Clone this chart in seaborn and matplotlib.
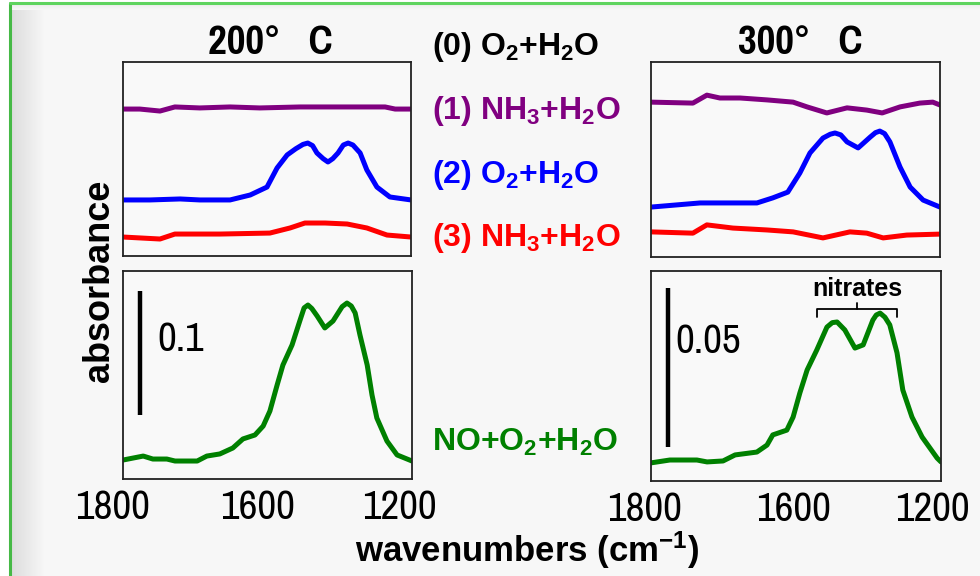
import numpy as np
import pandas as pd
import matplotlib
matplotlib.use('Agg')
import matplotlib.pyplot as plt
import seaborn as sns

# ---- data (wavenumber in cm-1, absorbance) ----
# 200 C, difference spectra
w_p200 = [1800, 1765, 1723, 1692, 1640, 1577, 1515, 1431, 1348, 1254, 1233, 1200]
a_p200 = [0.1185, 0.1185, 0.1169, 0.1202, 0.1194, 0.1202, 0.1194, 0.1202, 0.1202, 0.1202, 0.1185, 0.1185]

w_b200 = [1800, 1744, 1681, 1640, 1577, 1535, 1500, 1479, 1458, 1440, 1425, 1415, 1405, 1396,
          1383, 1373, 1363, 1352, 1341, 1331, 1321, 1306, 1292, 1271, 1244, 1200]
a_b200 = [0.0452, 0.0452, 0.0460, 0.0452, 0.0452, 0.0492, 0.0556, 0.0710, 0.0815, 0.0865,
          0.0900, 0.0911, 0.0890, 0.0831, 0.0785, 0.0758, 0.0785, 0.0831, 0.0895, 0.0911,
          0.0895, 0.0831, 0.0694, 0.0556, 0.0476, 0.0452]

w_r200 = [1800, 1723, 1692, 1598, 1494, 1452, 1421, 1379, 1333, 1292, 1250, 1200]
a_r200 = [0.0153, 0.0137, 0.0177, 0.0177, 0.0185, 0.0226, 0.0266, 0.0266, 0.0258, 0.0226, 0.0169, 0.0153]

# 200 C, NO+O2+H2O
w_g200 = [1800, 1758, 1738, 1709, 1692, 1646, 1626, 1599, 1572, 1551, 1526, 1509, 1495, 1480,
          1468, 1449, 1433, 1424, 1416, 1408, 1397, 1381, 1364, 1345, 1335, 1326, 1318, 1308,
          1293, 1283, 1273, 1252, 1231, 1200]
a_g200 = [0.0153, 0.0185, 0.0161, 0.0161, 0.0145, 0.0145, 0.0185, 0.0202, 0.0250, 0.0323,
          0.0355, 0.0427, 0.0548, 0.0758, 0.0919, 0.1081, 0.1274, 0.1380, 0.1403, 0.1375,
          0.1315, 0.1218, 0.1274, 0.1390, 0.1419, 0.1395, 0.1339, 0.1161, 0.0919, 0.0677,
          0.0492, 0.0306, 0.0194, 0.0145]

# 300 C, difference spectra
w_p300 = [1800, 1713, 1684, 1657, 1615, 1559, 1505, 1476, 1435, 1393, 1352, 1320, 1283, 1242, 1215, 1200]
a_p300 = [0.0487, 0.0484, 0.0509, 0.0500, 0.0500, 0.0494, 0.0487, 0.0472, 0.0453, 0.0469,
          0.0462, 0.0453, 0.0472, 0.0484, 0.0487, 0.0478]

w_b300 = [1800, 1698, 1580, 1547, 1516, 1491, 1470, 1443, 1428, 1418, 1406, 1393, 1370, 1345,
          1334, 1325, 1315, 1304, 1283, 1262, 1235, 1200]
a_b300 = [0.0157, 0.0170, 0.0170, 0.0186, 0.0204, 0.0264, 0.0327, 0.0374, 0.0386, 0.0390,
          0.0384, 0.0362, 0.0343, 0.0377, 0.0391, 0.0396, 0.0388, 0.0362, 0.0283, 0.0220,
          0.0179, 0.0157]

w_r300 = [1800, 1713, 1684, 1630, 1559, 1505, 1443, 1387, 1352, 1318, 1269, 1200]
a_r300 = [0.0079, 0.0075, 0.0101, 0.0091, 0.0085, 0.0079, 0.0060, 0.0079, 0.0075, 0.0060, 0.0069, 0.0072]

# 300 C, NO+O2+H2O
w_g300 = [1800, 1761, 1705, 1684, 1651, 1626, 1581, 1560, 1548, 1519, 1506, 1492, 1477, 1457,
          1436, 1425, 1415, 1399, 1378, 1361, 1341, 1334, 1326, 1316, 1306, 1291, 1279, 1260,
          1239, 1208, 1200]
a_g300 = [0.0057, 0.0066, 0.0066, 0.0060, 0.0063, 0.0082, 0.0091, 0.0113, 0.0145, 0.0160,
          0.0201, 0.0277, 0.0349, 0.0412, 0.0484, 0.0498, 0.0500, 0.0475, 0.0418, 0.0428,
          0.0506, 0.0522, 0.0528, 0.0515, 0.0491, 0.0403, 0.0286, 0.0201, 0.0138, 0.0072,
          0.0060]

tick_labels = ['1800', '1600', '1200']
step_labels = ['(0) O$_2$+H$_2$O', '(1) NH$_3$+H$_2$O', '(2) O$_2$+H$_2$O', '(3) NH$_3$+H$_2$O']
step_colors = ['black', '#800080', '#0000ff', '#ff0000']
scale_left = 0.1
scale_right = 0.05
nitrate_band = (1457, 1291)

# ---- style ----
sns.set_theme(style='white')
plt.rcParams['font.family'] = ['Pragati Narrow', 'Liberation Sans', 'DejaVu Sans']
plt.rcParams['mathtext.default'] = 'regular'
plt.rcParams['text.color'] = 'black'
wide = ['Liberation Sans', 'DejaVu Sans']

fig = plt.figure(figsize=(9.8, 5.76), dpi=100)
fig.patch.set_facecolor('white')

# background frame with a bevel on the left
bg = fig.add_axes([0, 0, 1, 1], zorder=-10)
img = np.ones((576, 980, 3))
img[4:, 10:, :] = 0.972
ramp = np.linspace(0.86, 0.972, 36)
img[4:, 10:46, :] = ramp[None, :, None]
img[4:10, 10:, :] = np.linspace(0.93, 0.972, 6)[:, None, None]
bg.imshow(img, aspect='auto', extent=[0, 980, 576, 0])
bg.plot([9.5, 9.5], [3, 576], color='#46b946', lw=2.2)
bg.plot([9.5, 980], [3, 3], color='#5fd45f', lw=2.2)
bg.set_xlim(0, 980)
bg.set_ylim(576, 0)
bg.axis('off')


def px_axes(x0, y0, x1, y1):
    return fig.add_axes([x0 / 980, 1 - y1 / 576, (x1 - x0) / 980, (y1 - y0) / 576])


def draw(ax, traces, top):
    rows = []
    for name, w, a in traces:
        rows += [(name, wi, ai) for wi, ai in zip(w, a)]
    df = pd.DataFrame(rows, columns=['trace', 'wavenumber', 'absorbance'])
    pal = {'p': '#800080', 'b': '#0000ff', 'r': '#ff0000', 'g': '#008000'}
    sns.lineplot(data=df, x='wavenumber', y='absorbance', hue='trace', palette=pal, ax=ax,
                 sort=False, estimator=None, lw=3.6, legend=False, solid_joinstyle='round')
    ax.set_xlim(1800, 1200)
    ax.set_ylim(0, top)
    ax.set_xticks([])
    ax.set_yticks([])
    ax.set_xlabel('')
    ax.set_ylabel('')
    ax.set_facecolor('#f9f9f9')
    for s in ax.spines.values():
        s.set_color('#222222')
        s.set_linewidth(1.3)


ax_tl = px_axes(123, 62, 411, 256)
draw(ax_tl, [('p', w_p200, a_p200), ('b', w_b200, a_b200), ('r', w_r200, a_r200)], 194 / 1240)
ax_bl = px_axes(123, 271, 412, 479)
draw(ax_bl, [('g', w_g200, a_g200)], 208 / 1240)
ax_tr = px_axes(651, 62, 940, 257)
draw(ax_tr, [('p', w_p300, a_p300), ('b', w_b300, a_b300), ('r', w_r300, a_r300)], 195 / 3180)
ax_br = px_axes(651, 271, 941, 481)
draw(ax_br, [('g', w_g300, a_g300)], 210 / 3180)

# scale bars
ax_bl.plot([1765, 1765], [0.0516, 0.0516 + scale_left], color='black', lw=3.2, solid_capstyle='butt')
ax_bl.text(0.12, 0.67, '0.1', transform=ax_bl.transAxes, fontsize=32, va='center', ha='left')
ax_br.plot([1765, 1765], [0.0107, 0.0107 + scale_right], color='black', lw=3.2, solid_capstyle='butt')
ax_br.text(0.085, 0.665, '0.05', transform=ax_br.transAxes, fontsize=32, va='center', ha='left')

# nitrates bracket
lo, hi = nitrate_band
mid = (lo + hi) / 2
ax_br.plot([lo, lo, hi, hi], [0.0516, 0.0541, 0.0541, 0.0516], color='black', lw=1.3)
ax_br.plot([mid, mid], [0.0541, 0.0560], color='black', lw=1.3)
ax_br.text(mid, 0.0604, 'nitrates', ha='center', va='center', fontsize=18,
           fontweight='bold', family=wide)

# tick labels
for ax, fr in [(ax_bl, [-0.038, 0.465, 0.958]), (ax_br, [-0.022, 0.49, 0.97])]:
    for f, lab in zip(fr, tick_labels):
        ax.text(f, -0.135, lab, transform=ax.transAxes, ha='center', va='center', fontsize=32)

# titles and labels
fig.text(270 / 980, 1 - 42 / 576, '200°   C', ha='center', va='center', fontsize=32, fontweight='bold')
fig.text(800 / 980, 1 - 42 / 576, '300°   C', ha='center', va='center', fontsize=32, fontweight='bold')
for lab, c, y in zip(step_labels, step_colors, [47, 111, 175, 238]):
    fig.text(432 / 980, 1 - y / 576, lab, ha='left', va='center', fontsize=23, fontweight='bold',
             color=c, family=wide)
fig.text(432 / 980, 1 - 442 / 576, 'NO+O$_2$+H$_2$O', ha='left', va='center', fontsize=23,
         fontweight='bold', color='#008000', family=wide)
fig.text(99 / 980, 1 - 281 / 576, 'absorbance', rotation=90, ha='center', va='center',
         fontsize=26, fontweight='bold', family=wide)
fig.text(527 / 980, 1 - 550 / 576, 'wavenumbers (cm$^{-1}$)', ha='center', va='center',
         fontsize=25, fontweight='bold', family=wide)

fig.savefig('out.png', dpi=100)
